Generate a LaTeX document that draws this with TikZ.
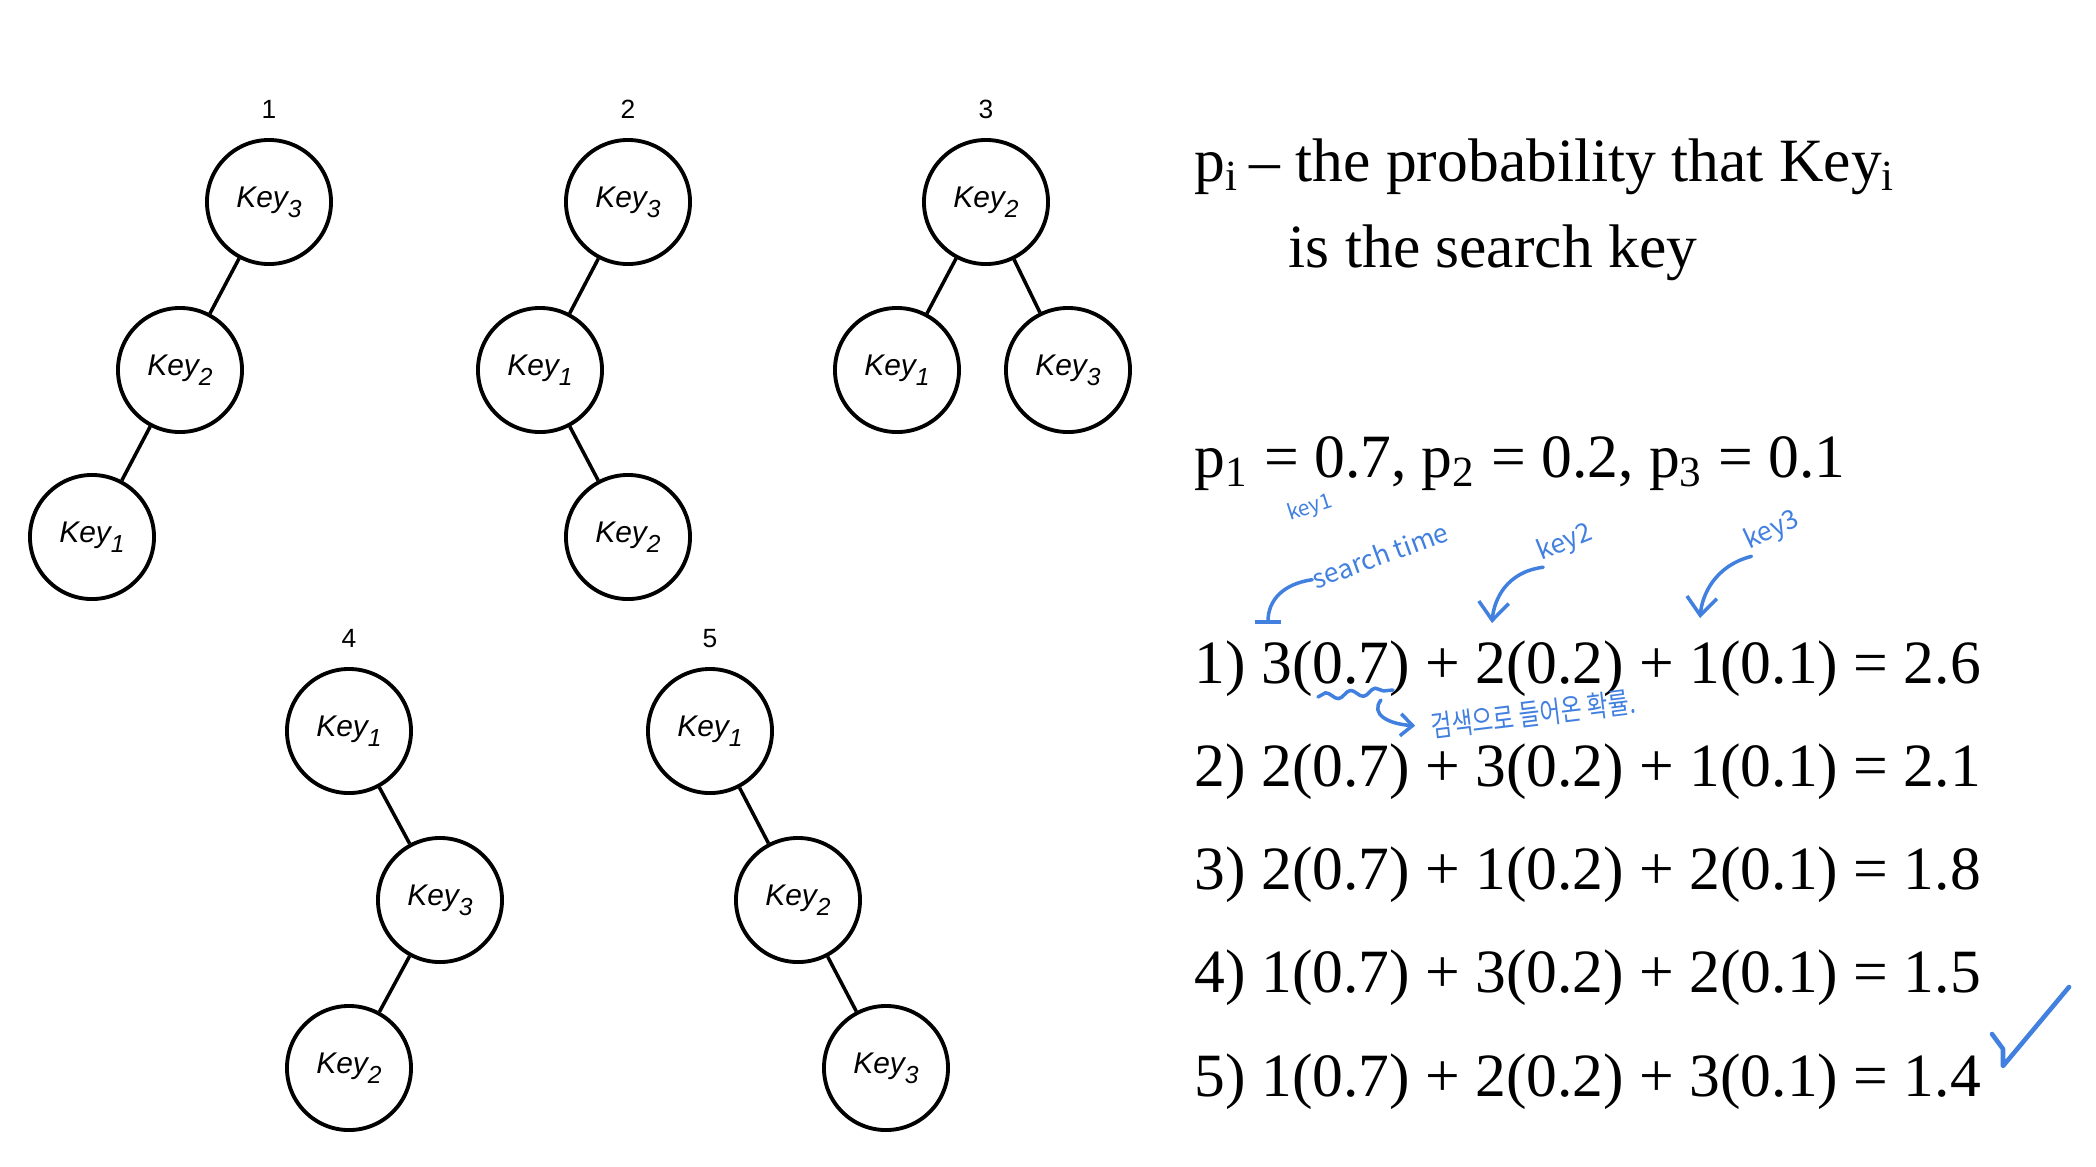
\documentclass[tikz,border=0pt]{standalone}
\usepackage{fontspec}
\setmainfont{Liberation Serif}
\newfontfamily\keyfont{Liberation Sans}
\newfontfamily\hanfont{Noto Sans CJK KR}
\usepackage{tikz}
\usetikzlibrary{arrows.meta,positioning,decorations.pathmorphing}
\usepackage{xcolor}
\definecolor{inkblue}{RGB}{66,128,224}
\newcommand{\ky}[1]{Key\raisebox{-0.1cm}{\fontsize{7}{8}\selectfont #1}}

\begin{document}
\begin{tikzpicture}[x=0.01cm, y=-0.01cm,
    keynode/.style={draw, circle, line width=1.1pt, minimum size=1.24cm, inner sep=0pt, font=\keyfont\itshape\fontsize{8.5}{10}\selectfont},
    treenum/.style={inner sep=0pt, font=\keyfont\fontsize{7.5}{9}\selectfont},
    treeedge/.style={line width=1pt},
    eqline/.style={anchor=base west, inner sep=0pt, font=\fontsize{17.5}{21}\selectfont},
    hand/.style={inner sep=0pt, text=inkblue, font=\hanfont\fontsize{7.5}{8}\selectfont},
    ink/.style={draw=inkblue, line width=1pt, line cap=round, line join=round}]
            \useasboundingbox (0,0) rectangle (2096,1166);

            % Tree 1
            \node[keynode] (t1a) at (269,202) {\ky{3}};
            \node[keynode] (t1b) at (180,370) {\ky{2}};
            \node[keynode] (t1c) at (92,537) {\ky{1}};
            \node[treenum, above=0.19cm of t1a] (n1) {1};
            \draw[treeedge] (t1a) -- (t1b);
            \draw[treeedge] (t1b) -- (t1c);

            % Tree 2
            \node[keynode] (t2a) at (628,202) {\ky{3}};
            \node[keynode] (t2b) at (540,370) {\ky{1}};
            \node[keynode] (t2c) at (628,537) {\ky{2}};
            \node[treenum, above=0.19cm of t2a] (n2) {2};
            \draw[treeedge] (t2a) -- (t2b);
            \draw[treeedge] (t2b) -- (t2c);

            % Tree 3
            \node[keynode] (t3a) at (986,202) {\ky{2}};
            \node[keynode] (t3b) at (897,370) {\ky{1}};
            \node[keynode] (t3c) at (1068,370) {\ky{3}};
            \node[treenum, above=0.19cm of t3a] (n3) {3};
            \draw[treeedge] (t3a) -- (t3b);
            \draw[treeedge] (t3a) -- (t3c);

            % Tree 4
            \node[keynode] (t4a) at (349,731) {\ky{1}};
            \node[keynode] (t4b) at (440,900) {\ky{3}};
            \node[keynode] (t4c) at (349,1068) {\ky{2}};
            \node[treenum, above=0.19cm of t4a] (n4) {4};
            \draw[treeedge] (t4a) -- (t4b);
            \draw[treeedge] (t4b) -- (t4c);

            % Tree 5
            \node[keynode] (t5a) at (710,731) {\ky{1}};
            \node[keynode] (t5b) at (798,900) {\ky{2}};
            \node[keynode] (t5c) at (886,1068) {\ky{3}};
            \node[treenum, above=0.19cm of t5a] (n5) {5};
            \draw[treeedge] (t5a) -- (t5b);
            \draw[treeedge] (t5b) -- (t5c);

            % Definitions
            \node[eqline] (def) at (1194,181) {p\textsubscript{i}\,– the probability that Key\textsubscript{i}};
            \node[eqline] (def2) at (1288,267) {is the search key};
            \node[eqline] (probs) at (1194,477) {p\textsubscript{1} = 0.7, p\textsubscript{2} = 0.2, p\textsubscript{3} = 0.1};

            % Average search times
            \foreach \n/\cost [count=\i from 0] in {
                1/{3(0.7) + 2(0.2) + 1(0.1) = 2.6},
                2/{2(0.7) + 3(0.2) + 1(0.1) = 2.1},
                3/{2(0.7) + 1(0.2) + 2(0.1) = 1.8},
                4/{1(0.7) + 3(0.2) + 2(0.1) = 1.5},
                5/{1(0.7) + 2(0.2) + 3(0.1) = 1.4}}
                \node[eqline] (eq\n) at (1194,{683+103.3*\i}) {\n) \cost};

            % Handwritten notes
            \node[hand, rotate=18, font=\hanfont\fontsize{6}{7}\selectfont] (k1note) at (1310,508) {key1};
            \node[hand, rotate=20] (stnote) at (1380,555) {search time};
            \node[hand, rotate=22] (k2note) at (1565,543) {key2};
            \node[hand, rotate=25] (k3note) at (1772,531) {key3};
            \node[hand, rotate=7, font=\hanfont\fontsize{6.5}{7}\selectfont] (krnote) at (1533,714) {\scalebox{1}[1.3]{검색으로 들어온 확률.}};
            \coordinate (tip1) at (1268,624);
            \coordinate (tip2) at (1492,623);
            \coordinate (tip3) at (1700,618);
            \draw[ink, -{Bar[width=0.26cm, line width=1pt]}] (stnote.west) .. controls (1283,584) and (1268,600) .. (tip1);
            \draw[ink, -{Straight Barb[length=0.18cm, width=0.3cm]}] (k2note.south west) .. controls (1506,572) and (1494,600) .. (tip2);
            \draw[ink, -{Straight Barb[length=0.18cm, width=0.3cm]}] (k3note.south west) .. controls (1714,566) and (1702,596) .. (tip3);
            \draw[ink, decorate, decoration={snake, amplitude=0.035cm, segment length=0.25cm}] (1318,697) -- (1393,690);
            \draw[ink, shorten >=0.15cm, -{Straight Barb[length=0.12cm, width=0.22cm]}] (1381,700) .. controls (1370,714) and (1388,724) .. (krnote.west);

            % Check mark
            \draw[ink, line width=1.3pt] (1992,1034) -- (2003,1049) -- (2003,1066) -- (2069,987);
        \end{tikzpicture}
\end{document}
